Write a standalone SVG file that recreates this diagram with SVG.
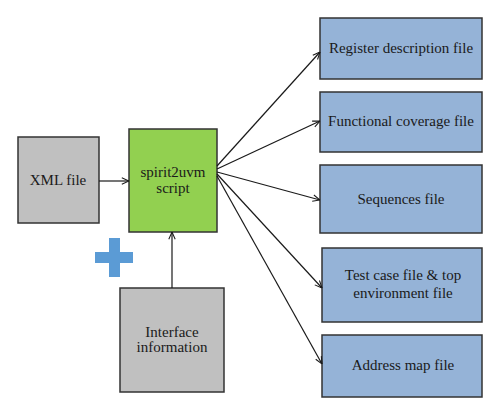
<svg xmlns="http://www.w3.org/2000/svg" width="500" height="416" viewBox="0 0 500 416">
<defs>
<style>
.box{stroke:#333;stroke-width:1.5}
.gray{fill:#c0c0c0}
.green{fill:#92d050}
.blue{fill:#95b3d7}
.t{font-family:'Liberation Serif','Times New Roman',serif;font-size:15px;fill:#1a1a1a;text-anchor:middle;dominant-baseline:central}
.conn line{stroke:#1a1a1a;stroke-width:1.2;fill:none;marker-end:url(#arr)}
</style>
<marker id="arr" viewBox="0 0 10 10" refX="10" refY="5" markerWidth="8" markerHeight="8" markerUnits="userSpaceOnUse" orient="auto">
<path d="M1,1 L10,5 L1,9" fill="none" stroke="#1a1a1a" stroke-width="1.3"/>
</marker>
</defs>
<rect width="500" height="416" fill="#fff"/>
<g font-family="Liberation Serif, serif">
<g id="xml">
<rect class="box gray" x="18" y="137" width="81" height="86"/>
<text class="t" x="58" y="180">XML file</text>
</g>
<g id="script">
<rect class="box green" x="129" y="129" width="88" height="103"/>
<text class="t" x="173" y="172">spirit2uvm</text>
<text class="t" x="173" y="188">script</text>
</g>
<g id="iface">
<rect class="box gray" x="120" y="288" width="104" height="104"/>
<text class="t" x="172" y="332">Interface</text>
<text class="t" x="172" y="347">information</text>
</g>
<g id="plus" fill="#5b9bd5">
<rect x="95" y="252" width="38" height="11"/>
<rect x="109" y="238" width="11" height="39"/>
</g>
<g id="reg">
<rect class="box blue" x="320" y="18" width="162" height="61"/>
<text class="t" x="401" y="48">Register description file</text>
</g>
<g id="cov">
<rect class="box blue" x="320" y="92" width="162" height="60"/>
<text class="t" x="401" y="121">Functional coverage file</text>
</g>
<g id="seq">
<rect class="box blue" x="320" y="165" width="162" height="68"/>
<text class="t" x="401" y="199">Sequences file</text>
</g>
<g id="test">
<rect class="box blue" x="322" y="248" width="160" height="74"/>
<text class="t" x="403" y="275">Test case file &amp; top</text>
<text class="t" x="403" y="293">environment file</text>
</g>
<g id="addr">
<rect class="box blue" x="322" y="335" width="160" height="62"/>
<text class="t" x="403" y="365">Address map file</text>
</g>
</g>
<g class="conn" id="connectors">
<line x1="99" y1="181" x2="129" y2="181"/>
<line x1="172" y1="288" x2="172" y2="232"/>
<line x1="217" y1="166" x2="320" y2="52"/>
<line x1="217" y1="169" x2="320" y2="121"/>
<line x1="217" y1="172" x2="320" y2="200"/>
<line x1="217" y1="174" x2="322" y2="288"/>
<line x1="217" y1="176" x2="322" y2="364"/>
</g>
</svg>
